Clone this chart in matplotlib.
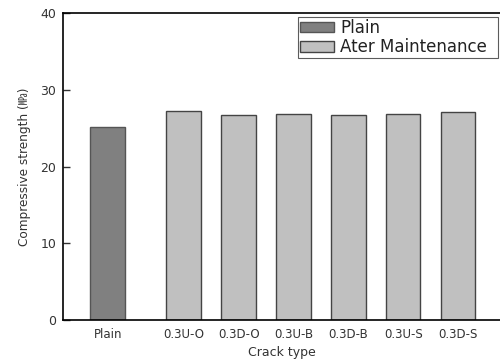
import matplotlib
matplotlib.use('Agg')
import matplotlib.pyplot as plt

plt.rcParams['font.family'] = ['DejaVu Sans', 'Noto Sans CJK KR']

# data
categories = ['Plain', '0.3U-O', '0.3D-O', '0.3U-B', '0.3D-B', '0.3U-S', '0.3D-S']
strength = [25.2, 27.2, 26.8, 26.9, 26.8, 26.9, 27.1]
groups = ['Plain', 'Ater Maintenance']
# plain bar stands apart from the maintenance bars
xpos = [0, 1.385, 2.385, 3.385, 4.385, 5.385, 6.385]

plain_color = '#808080'
maint_color = '#c0c0c0'

fig = plt.figure(figsize=(5, 3.6), dpi=100)
ax = fig.add_axes([0.1266, 0.111, 0.8734, 0.852])

ax.bar(xpos[:1], strength[:1], width=0.63, color=plain_color,
       edgecolor='#555555', linewidth=1.0, label=groups[0])
ax.bar(xpos[1:], strength[1:], width=0.63, color=maint_color,
       edgecolor='#444444', linewidth=1.0, label=groups[1])

ax.set_xlim(-0.81, 7.15)
ax.set_ylim(0, 40)
ax.set_yticks([0, 10, 20, 30, 40])
ax.set_xticks(xpos)
ax.set_xticklabels(categories, fontsize=8.5, color='#333333')
ax.tick_params(axis='x', length=0, pad=6)
ax.tick_params(axis='y', direction='in', length=5, width=1.0,
               labelsize=9, colors='#333333', pad=5)

for s in ['left', 'bottom', 'top']:
    ax.spines[s].set_linewidth(1.2)
ax.spines['right'].set_visible(False)

ax.set_xlabel('Crack type', fontsize=9, color='#333333', labelpad=3)
ax.set_ylabel('Compressive strength (㎫)', fontsize=8.7, color='#333333',
              labelpad=7)

# legend box stretched to the frame seen in the reference
leg = ax.legend(loc='upper left',
                bbox_to_anchor=(298 / 500, 1 - 17 / 360, 200 / 500, 0),
                bbox_transform=fig.transFigure, mode='expand',
                fontsize=12, frameon=True, fancybox=False,
                handlelength=2.05, handleheight=0.6, handletextpad=0.36,
                borderpad=0.12, labelspacing=0.08, borderaxespad=0)
leg.get_frame().set_edgecolor('#333333')
leg.get_frame().set_linewidth(0.8)
for t in leg.get_texts():
    t.set_color('#222222')

fig.savefig('out.png', dpi=100)
